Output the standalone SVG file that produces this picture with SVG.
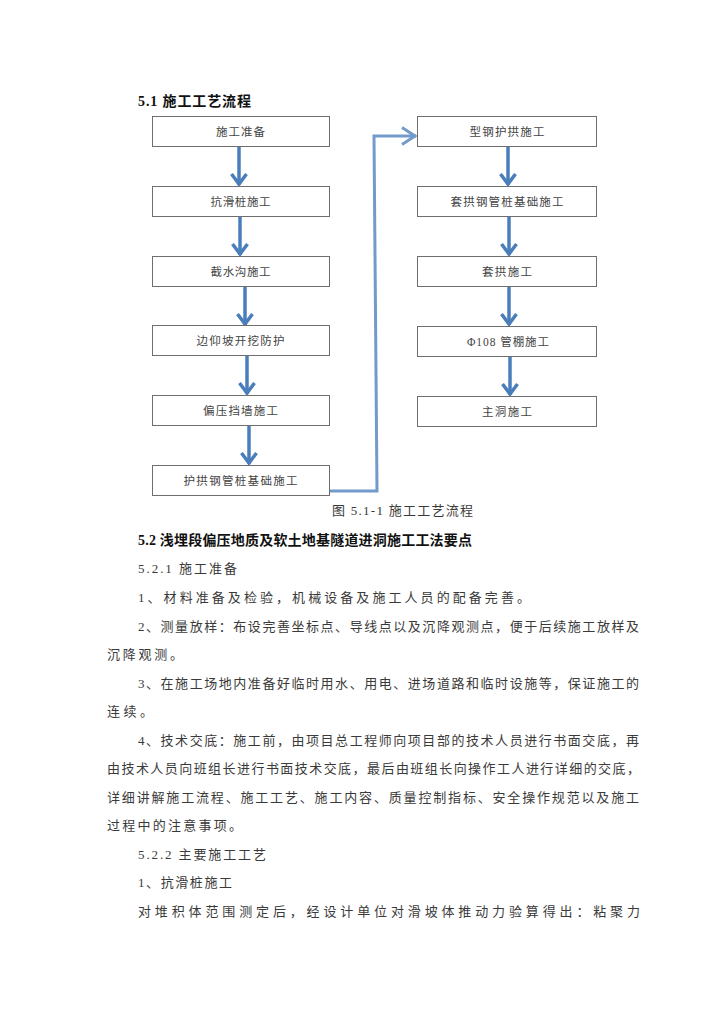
<svg xmlns="http://www.w3.org/2000/svg" width="724" height="1024" viewBox="0 0 724 1024">
<style>
.box{fill:#fff;stroke:#6e6e6e;stroke-width:1}
.bt{font-family:"Liberation Serif","Noto Sans CJK SC",serif;font-size:11.5px;fill:#444;text-anchor:middle}
.body{font-family:"Liberation Serif","Noto Sans CJK SC",serif;font-size:13px;fill:#3a3a3a}
.h{font-family:"Liberation Serif","Noto Sans CJK SC",serif;font-size:14px;font-weight:bold;fill:#111}
.arr{fill:none;stroke:#4a7ebb;stroke-width:3.5}
.conn{fill:none;stroke:#729aca;stroke-width:3}
</style>
<defs>
<marker id="hd" markerUnits="userSpaceOnUse" orient="auto" markerWidth="30" markerHeight="30" viewBox="-20 -15 30 30" refX="0" refY="0">
<path d="M-11,-7.5 L-1,0 L-11,7.5" fill="none" stroke="#4a7ebb" stroke-width="3.5"/>
</marker>
<marker id="hc" markerUnits="userSpaceOnUse" orient="auto" markerWidth="30" markerHeight="30" viewBox="-20 -15 30 30" refX="0" refY="0">
<path d="M-14,-8.5 L-1,0 L-14,8.5" fill="none" stroke="#729aca" stroke-width="3"/>
</marker>
</defs>
<rect width="724" height="1024" fill="#fff"/>

<text class="h" x="138" y="106" textLength="113">5.1 施工工艺流程</text>

<g id="connectors">
<line class="arr" x1="239" y1="146" x2="239" y2="185" marker-end="url(#hd)"/>
<line class="arr" x1="240" y1="216" x2="240" y2="255" marker-end="url(#hd)"/>
<line class="arr" x1="245" y1="286" x2="245" y2="325" marker-end="url(#hd)"/>
<line class="arr" x1="247" y1="355" x2="247" y2="394" marker-end="url(#hd)"/>
<line class="arr" x1="249" y1="425" x2="249" y2="464" marker-end="url(#hd)"/>
<line class="arr" x1="508" y1="146" x2="508" y2="185" marker-end="url(#hd)"/>
<line class="arr" x1="509" y1="216" x2="509" y2="255" marker-end="url(#hd)"/>
<line class="arr" x1="509" y1="286" x2="509" y2="325" marker-end="url(#hd)"/>
<line class="arr" x1="510" y1="355" x2="510" y2="395" marker-end="url(#hd)"/>
<path class="conn" d="M330,491 L377,491 L374,136 L416,136" marker-end="url(#hc)"/>
</g>

<g id="n1"><rect class="box" x="152.5" y="116.5" width="177" height="30"/><text class="bt" x="240.5" y="136" textLength="49">施工准备</text></g>
<g id="n2"><rect class="box" x="152.5" y="186.5" width="177" height="30"/><text class="bt" x="240.5" y="206" textLength="60">抗滑桩施工</text></g>
<g id="n3"><rect class="box" x="152.5" y="256.5" width="177" height="30"/><text class="bt" x="240.5" y="276" textLength="60">截水沟施工</text></g>
<g id="n4"><rect class="box" x="152.5" y="325.5" width="177" height="30"/><text class="bt" x="240.5" y="345" textLength="88">边仰坡开挖防护</text></g>
<g id="n5"><rect class="box" x="152.5" y="395.5" width="177" height="30"/><text class="bt" x="240.5" y="415" textLength="75">偏压挡墙施工</text></g>
<g id="n6"><rect class="box" x="152.5" y="465.5" width="177" height="30"/><text class="bt" x="240.5" y="485" textLength="114">护拱钢管桩基础施工</text></g>

<g id="n7"><rect class="box" x="417.5" y="116.5" width="179" height="30"/><text class="bt" x="507" y="136" textLength="75">型钢护拱施工</text></g>
<g id="n8"><rect class="box" x="417.5" y="186.5" width="179" height="30"/><text class="bt" x="507" y="206" textLength="113">套拱钢管桩基础施工</text></g>
<g id="n9"><rect class="box" x="417.5" y="256.5" width="179" height="30"/><text class="bt" x="507" y="276" textLength="50">套拱施工</text></g>
<g id="n10"><rect class="box" x="417.5" y="326.5" width="179" height="30"/><text class="bt" x="508" y="346" textLength="82">Φ108 管棚施工</text></g>
<g id="n11"><rect class="box" x="417.5" y="396.5" width="179" height="30"/><text class="bt" x="507" y="416" textLength="50">主洞施工</text></g>

<text class="body" x="332" y="515" textLength="141">图 5.1-1 施工工艺流程</text>
<text class="h" x="138" y="545" textLength="334">5.2 浅埋段偏压地质及软土地基隧道进洞施工工法要点</text>
<text class="body" x="138" y="573" textLength="99">5.2.1 施工准备</text>
<text class="body" x="138" y="602" textLength="392">1、材料准备及检验，机械设备及施工人员的配备完善。</text>
<text class="body" x="138" y="631" textLength="501">2、测量放样：布设完善坐标点、导线点以及沉降观测点，便于后续施工放样及</text>
<text class="body" x="107" y="659" textLength="76">沉降观测。</text>
<text class="body" x="138" y="688" textLength="501">3、在施工场地内准备好临时用水、用电、进场道路和临时设施等，保证施工的</text>
<text class="body" x="107" y="716" textLength="46">连续。</text>
<text class="body" x="138" y="745" textLength="501">4、技术交底：施工前，由项目总工程师向项目部的技术人员进行书面交底，再</text>
<text class="body" x="107" y="773" textLength="533">由技术人员向班组长进行书面技术交底，最后由班组长向操作工人进行详细的交底，</text>
<text class="body" x="107" y="802" textLength="532">详细讲解施工流程、施工工艺、施工内容、质量控制指标、安全操作规范以及施工</text>
<text class="body" x="107" y="830" textLength="135">过程中的注意事项。</text>
<text class="body" x="138" y="859" textLength="128">5.2.2 主要施工工艺</text>
<text class="body" x="138" y="887" textLength="94">1、抗滑桩施工</text>
<text class="body" x="138" y="916" textLength="502">对堆积体范围测定后，经设计单位对滑坡体推动力验算得出：粘聚力</text>
</svg>
